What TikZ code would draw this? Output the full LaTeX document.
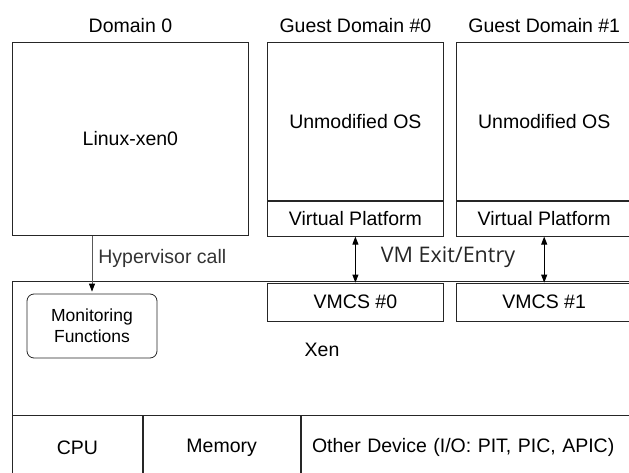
\documentclass[tikz,border=0pt]{standalone}
\usepackage{fontspec}
\setmainfont{Liberation Sans}
\newfontfamily\exitfont{Open Sans}
\usetikzlibrary{arrows.meta,positioning}

\begin{document}
\begin{tikzpicture}[
    x=1pt, y=-1pt,
    font=\fontsize{19.5}{23}\selectfont,
    line width=0.8pt,
    node distance=0pt,
    osbox/.style={draw=black!85, inner sep=0pt, minimum width=176pt, minimum height=158pt},
    vpbox/.style={draw=black!85, inner sep=0pt, minimum width=176pt, minimum height=35pt},
    vmcsbox/.style={draw=black!85, fill=white, inner sep=0pt, minimum width=176pt, minimum height=38pt},
    cellbox/.style={draw=black!85, inner sep=0pt, minimum height=65pt},
    monbox/.style={draw=black!85, rounded corners=7pt, align=center, minimum width=130pt, minimum height=64pt, font=\fontsize{17.5}{21}\selectfont},
    domlabel/.style={inner sep=0pt},
    duplex/.style={{Triangle[length=8pt,width=6pt]}-{Triangle[length=8pt,width=6pt]}, line width=0.9pt},
    hyparrow/.style={-{Triangle[length=8pt,width=6pt,black]}, draw=black!65, shorten >=2pt}
]
\clip (0,0) rectangle (629,473);

% domains
\node[osbox, minimum width=236pt, minimum height=193pt, anchor=north west] (dom0) at (12,42) {Linux-xen0};
\node[domlabel, above=9pt of dom0] (dom0lbl) {Domain 0};

\node[osbox, anchor=north west] (gd0os) at (267,42) {Unmodified OS};
\node[vpbox, below=of gd0os] (vp0) {Virtual Platform};
\node[domlabel, above=9pt of gd0os] (gd0lbl) {Guest Domain \#0};

\node[osbox, right=12pt of gd0os] (gd1os) {Unmodified OS};
\node[vpbox, below=of gd1os] (vp1) {Virtual Platform};
\node[domlabel, above=9pt of gd1os] (gd1lbl) {Guest Domain \#1};

% xen
\node[draw=black!85, inner sep=0pt, minimum width=640pt, minimum height=200pt, anchor=north west] (xen) at (12,281) {};
\node (xenlbl) at (322,350) {Xen};
\node[vmcsbox, below=46pt of vp0] (vmcs0) {VMCS \#0};
\node[vmcsbox, below=46pt of vp1] (vmcs1) {VMCS \#1};
\node[monbox] (mon) at (92,326) {Monitoring\\Functions};

\node[cellbox, minimum width=130pt, anchor=north west] (cpu) at (12,415) {CPU};
\node[cellbox, minimum width=157pt, right=of cpu] (mem) {Memory};
\node[cellbox, text width=320pt, inner xsep=11pt, align=left, right=of mem] (dev) {Other Device (I/O: PIT, PIC, APIC)};

% connectors
\draw[hyparrow] (dom0.south -| mon.north) -- node[pos=0.4, right, inner xsep=6pt, text=black!80] (hyplbl) {Hypervisor call} (mon.north);
\draw[duplex] (vp0) -- (vmcs0);
\draw[duplex] (vp1) -- (vmcs1);
\node[font=\exitfont\fontsize{21.5}{25}\selectfont, text=black!85] (exitlbl) at (448,257) {VM Exit/Entry};
\end{tikzpicture}
\end{document}
